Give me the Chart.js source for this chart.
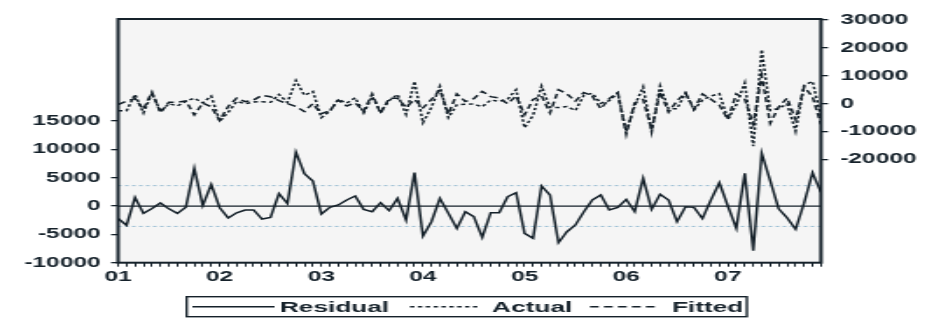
<!DOCTYPE html>
<html>
<head>
<meta charset="utf-8">
<title>Residual / Actual / Fitted</title>
<script src="https://cdn.jsdelivr.net/npm/chart.js@4.4.1/dist/chart.umd.min.js"></script>
<style>
  html, body { margin: 0; padding: 0; background: #fff; }
  /* the source picture is stretched sideways, so the chart is drawn narrow and scaled */
  #wrap { width: 530px; height: 321px; transform: scaleX(1.749); transform-origin: 0 0; }
</style>
</head>
<body>
<div id="wrap"><canvas id="residChart" width="530" height="321"></canvas></div>
<script>
// =======================
// Data (monthly, 2001-2007)
// =======================
const years = ['01', '02', '03', '04', '05', '06', '07'];

const residual = [
  -2200, -3400, 1500, -1300, -450, 550, -500, -1300, -200, 6650,
  100, 3800, -300, -2100, -1200, -700, -700, -2300, -2000, 2200,
  450, 9500, 5700, 4400, -1400, -230, 180, 1060, 1770, -590,
  -1000, 590, -820, 1350, -2470, 5890, -5300, -2770, 1350, -1290,
  -3940, -1000, -1880, -5530, -1180, -1180, 1650, 2350, -4820, -5700,
  3530, 1940, -6470, -4530, -3350, -1000, 1060, 1940, -700, -230,
  1180, -1000, 4880, -590, 2060, 1060, -2770, -120, -230, -2200,
  1060, 4110, 0, -3940, 5770, -7890, 9300, 4500, -500, -2100,
  -4100, 500, 5880, 2400
];

const actual = [
  -2500, -2500, 3300, -3300, 3750, -2750, 0, -800, 800, 2000,
  300, 2700, -6300, -3100, 800, 0, 600, 700, 500, 3300,
  450, 8300, 3000, 4400, -5000, -2700, 1500, 250, 2100, -3300,
  2500, -2900, 1100, 3300, -3800, 8000, -6800, -1300, 6200, -5000,
  -400, -200, -100, -1100, 1300, 800, 1650, 5000, -8600, -4200,
  6300, -1400, -1400, -1000, -2450, 3000, 3700, 150, 1100, 3800,
  -10000, -700, 6000, -10000, 6300, -1900, -1800, 3800, -2200, 1300,
  2700, 3600, -5600, -400, 7400, -15200, 19300, -2500, -1700, -100,
  -9800, 6500, 8000, -5000
];

const fitted = [
  -300, 900, 1800, -2000, 4200, -3300, 500, 500, 1000, -4000,
  200, -1100, -6000, -1000, 2000, 700, 1300, 3000, 2500, 1100,
  0, -1000, -2800, 0, -3600, -2500, 1300, -800, 300, -2700,
  3500, -3500, 1900, 1900, -1300, 1500, -1500, 1500, 4900, -3700,
  3500, 800, 1800, 4400, 2500, 2000, 0, 2700, -4000, 1500,
  2800, -3300, 5000, 3500, 900, 4000, 2700, -1800, 1800, 4000,
  -11000, 300, 1500, -9400, 4200, -3000, 1000, 3900, -2000, 3500,
  1600, -500, -5600, 3500, 1600, -7300, 10000, -7000, -1200, 2000,
  -5700, 6000, 2500, -7400
];

const residTicks = [-10000, -5000, 0, 5000, 10000, 15000];
const levelTicks = [-20000, -10000, 0, 10000, 20000, 30000];
const seBand = 3600;   // +/- 1 S.E. of the residuals

// category labels, one per month
const months = [];
years.forEach(y => {
  for (let m = 1; m <= 12; m++) months.push(y + 'M' + m);
});

const ink = '#15212a';
const tickFont = { family: "'Liberation Sans', Arial, sans-serif", size: 14, weight: 'bold' };

// =======================
// Plugin: plot background, zero + S.E. lines, frame, legend box
// =======================
const eviewsLook = {
  id: 'eviewsLook',
  beforeDatasetsDraw(chart) {
    const { ctx, chartArea: a, scales } = chart;
    ctx.save();
    ctx.fillStyle = '#f5f5f5';
    ctx.fillRect(a.left, a.top, a.right - a.left, a.bottom - a.top);

    // S.E. band lines
    ctx.strokeStyle = '#98bdd2';
    ctx.lineWidth = 1;
    ctx.setLineDash([2, 2]);
    [seBand, -seBand].forEach(v => {
      const y = scales.yL.getPixelForValue(v);
      ctx.beginPath(); ctx.moveTo(a.left, y); ctx.lineTo(a.right, y); ctx.stroke();
    });

    // zero line of residuals
    ctx.setLineDash([]);
    ctx.strokeStyle = ink;
    ctx.lineWidth = 1.3;
    const y0 = scales.yL.getPixelForValue(0);
    ctx.beginPath(); ctx.moveTo(a.left, y0); ctx.lineTo(a.right, y0); ctx.stroke();
    ctx.restore();
  },
  afterDraw(chart) {
    const { ctx, chartArea: a } = chart;
    ctx.save();
    ctx.strokeStyle = ink;
    ctx.lineWidth = 2;
    ctx.strokeRect(a.left, a.top, a.right - a.left, a.bottom - a.top);

    // legend box
    const bx = 106.7, by = 296.7, bw = 320.3, bh = 20;
    ctx.lineWidth = 1.4;
    ctx.strokeRect(bx, by, bw, bh);
    const cy = by + bh / 2;
    const slots = [[110, 157, 160], [234.4, 273.3, 281.3], [337.3, 374.5, 384.2]];
    ctx.font = "bold 15px 'Liberation Sans', Arial, sans-serif";
    ctx.fillStyle = ink;
    ctx.textBaseline = 'middle';
    chart.data.datasets.forEach((ds, i) => {
      const [x0, x1, tx] = slots[i];
      ctx.setLineDash(ds.borderDash || []);
      ctx.lineWidth = 1.5;
      ctx.beginPath(); ctx.moveTo(x0, cy); ctx.lineTo(x1, cy); ctx.stroke();
      ctx.fillText(ds.label, tx, cy + 1);
    });
    ctx.restore();
  }
};

// =======================
// Chart
// =======================
new Chart(document.getElementById('residChart'), {
  type: 'line',
  data: {
    labels: months,
    datasets: [
      { label: 'Residual', data: residual, yAxisID: 'yL', borderColor: ink, borderWidth: 1.5 },
      { label: 'Actual', data: actual, yAxisID: 'yR', borderColor: ink, borderWidth: 1.5, borderDash: [2.5, 2] },
      { label: 'Fitted', data: fitted, yAxisID: 'yR', borderColor: ink, borderWidth: 1.5, borderDash: [5, 3] }
    ]
  },
  options: {
    responsive: false,
    animation: false,
    layout: { padding: { top: 19, right: 0, bottom: 0, left: 0 } },
    elements: { point: { radius: 0 }, line: { tension: 0 } },
    plugins: { legend: { display: false }, tooltip: { enabled: false } },
    scales: {
      x: {
        offset: false,
        border: { display: false },
        grid: { drawOnChartArea: false, tickLength: 4, color: ink, lineWidth: 1 },
        ticks: {
          autoSkip: false, maxRotation: 0, padding: 2, color: ink, font: tickFont,
          callback: (v, i) => (i % 12 === 0 ? years[i / 12] : '')
        },
        afterFit: s => { s.height = 58.3; }
      },
      yL: {
        position: 'left',
        min: -10000, max: 33000,
        border: { display: false },
        grid: { drawOnChartArea: false, tickLength: 4, color: ink, lineWidth: 1.3 },
        afterBuildTicks: s => { s.ticks = residTicks.map(v => ({ value: v })); },
        ticks: { padding: 6, color: ink, font: tickFont, callback: v => String(v) },
        afterFit: s => { s.width = 67.5; }
      },
      yR: {
        position: 'right',
        min: -56900, max: 30300,
        border: { display: false },
        grid: { drawOnChartArea: false, tickLength: 4, color: ink, lineWidth: 1.3 },
        afterBuildTicks: s => { s.ticks = levelTicks.map(v => ({ value: v })); },
        ticks: { padding: 7, color: ink, font: tickFont, callback: v => String(v) },
        afterFit: s => { s.width = 60.6; }
      }
    }
  },
  plugins: [eviewsLook]
});
</script>
</body>
</html>
